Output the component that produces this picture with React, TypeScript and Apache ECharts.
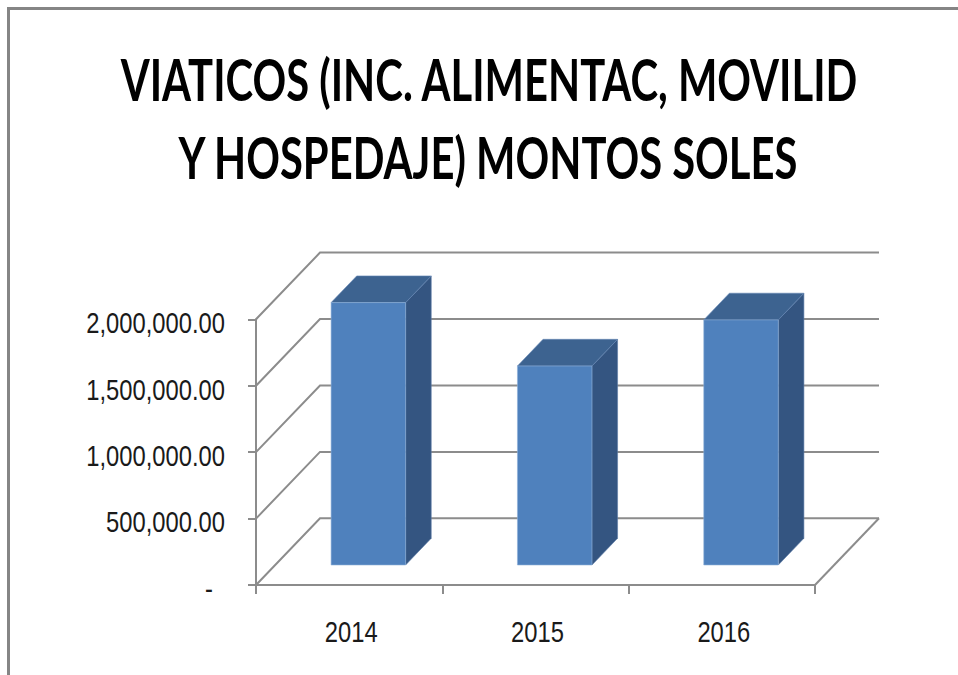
import React, { useEffect, useRef } from "react";
import * as echarts from "echarts";

const CATEGORIES = ["2014", "2015", "2016"];
const VALUES = [1975000, 1498000, 1845000];
const Y_MIN = 0;
const Y_MAX = 2000000;
const Y_STEP = 500000;
const TITLE_LINES = ["VIATICOS (INC. ALIMENTAC, MOVILID", "Y HOSPEDAJE) MONTOS SOLES"];

const W = 958;
const H = 675;
const DX = 64; // depth offset of back wall (px)
const DY = 66.7;
const FRONT = 0.3; // bar front depth fraction
const BACK = 0.7; // bar back depth fraction
const BAR_RATIO = 0.4;
const GRID_COLOR = "#8c8c8c";
const LABEL_FONT = "'Liberation Sans', Arial, sans-serif";
const LABEL_SCALE = 0.82;
const TITLE_FONT = "Lato, 'Liberation Sans', sans-serif";

function fmt(v: number): string {
  if (v === 0) return "-";
  return v.toLocaleString("en-US", { minimumFractionDigits: 2, maximumFractionDigits: 2 });
}

export default function App() {
  const ref = useRef<HTMLDivElement>(null);
  useEffect(() => {
    if (!ref.current) return;
    const chart = echarts.init(ref.current, null, { renderer: "svg" });
    const ticks: number[] = [];
    for (let v = Y_MIN; v <= Y_MAX; v += Y_STEP) ticks.push(v);

    const option: any = {
      animation: false,
      backgroundColor: "#ffffff",
      grid: { left: 256, right: W - 815, top: 319.3, bottom: H - 585, containLabel: false },
      xAxis: {
        type: "category",
        data: CATEGORIES,
        boundaryGap: true,
        axisLine: { show: true, lineStyle: { color: GRID_COLOR, width: 2 } },
        axisTick: { show: true, length: 9, lineStyle: { color: GRID_COLOR, width: 2 } },
        axisLabel: { show: false },
        splitLine: { show: false },
      },
      yAxis: {
        type: "value",
        min: Y_MIN,
        max: Y_MAX,
        interval: Y_STEP,
        axisLine: { show: true, lineStyle: { color: GRID_COLOR, width: 2 } },
        axisTick: { show: true, length: 8, lineStyle: { color: GRID_COLOR, width: 2 } },
        axisLabel: { show: false },
        splitLine: { show: false },
      },
      graphic: [
        {
          type: "rect",
          shape: { x: 8.5, y: 8.5, width: 2000, height: 2000 },
          style: { fill: "none", stroke: "#858585", lineWidth: 3 },
          silent: true,
        },
        {
          type: "text",
          x: 489,
          y: 79,
          scaleX: 0.72,
          style: {
            text: TITLE_LINES[0],
            x: 0,
            y: 0,
            align: "center",
            verticalAlign: "middle",
            font: `bold 58px ${TITLE_FONT}`,
            fill: "#000000",
          },
        },
        {
          type: "text",
          x: 488,
          y: 157,
          scaleX: 0.72,
          style: {
            text: TITLE_LINES[1],
            x: 0,
            y: 0,
            align: "center",
            verticalAlign: "middle",
            font: `bold 58px ${TITLE_FONT}`,
            fill: "#000000",
          },
        },
      ],
      series: [
        {
          type: "custom",
          name: "walls",
          z: 1,
          silent: true,
          data: ticks.map((v) => [0, v]),
          renderItem: (params: any, api: any) => {
            const v = api.value(1);
            const cs = params.coordSys;
            const y = api.coord([0, v])[1];
            const x0 = cs.x;
            const x1 = cs.x + cs.width;
            const style = { stroke: GRID_COLOR, lineWidth: 2, fill: "none" };
            const children: any[] = [
              {
                type: "polyline",
                shape: { points: [[x0, y], [x0 + DX, y - DY], [x1 + DX, y - DY]] },
                style,
              },
              {
                type: "text",
                x: x0 - 31 - (v === 0 ? 12 : 0),
                y: y + 4,
                scaleX: LABEL_SCALE,
                style: {
                  text: fmt(v),
                  x: 0,
                  y: 0,
                  align: "right",
                  verticalAlign: "middle",
                  font: `29px ${LABEL_FONT}`,
                  fill: "#1a1a1a",
                },
              },
            ];
            if (v === 0) {
              children.push({
                type: "line",
                shape: { x1: x1, y1: y, x2: x1 + DX, y2: y - DY },
                style,
              });
            }
            return { type: "group", children };
          },
        },
        {
          type: "custom",
          name: "xlabels",
          z: 2,
          silent: true,
          data: CATEGORIES.map((c, i) => [i, 0]),
          renderItem: (params: any, api: any) => {
            const idx = api.value(0);
            const p = api.coord([idx, 0]);
            return {
              type: "text",
              x: p[0] + 2,
              y: p[1] + 47.5,
              scaleX: LABEL_SCALE,
              style: {
                text: CATEGORIES[idx],
                x: 0,
                y: 0,
                align: "center",
                verticalAlign: "middle",
                font: `29px ${LABEL_FONT}`,
                fill: "#1a1a1a",
              },
            };
          },
        },
        {
          type: "custom",
          name: "VIATICOS",
          z: 5,
          data: CATEGORIES.map((c, i) => [i, VALUES[i]]),
          renderItem: (params: any, api: any) => {
            const idx = api.value(0);
            const v = api.value(1);
            const base = api.coord([idx, 0]);
            const top = api.coord([idx, v]);
            const band = api.size([1, 0])[0];
            const w = band * BAR_RATIO;
            const fx = base[0] - w / 2 + DX * FRONT;
            const fy0 = base[1] - DY * FRONT;
            const fy1 = top[1] - DY * FRONT;
            const bx = DX * (BACK - FRONT);
            const by = DY * (BACK - FRONT);
            return {
              type: "group",
              children: [
                {
                  type: "polygon",
                  shape: { points: [[fx + w, fy0], [fx + w + bx, fy0 - by], [fx + w + bx, fy1 - by], [fx + w, fy1]] },
                  style: { fill: "#345581", stroke: "#5a7aa6", lineWidth: 0.6 },
                },
                {
                  type: "polygon",
                  shape: { points: [[fx, fy1], [fx + bx, fy1 - by], [fx + w + bx, fy1 - by], [fx + w, fy1]] },
                  style: { fill: "#3d6390", stroke: "#6487b5", lineWidth: 0.6 },
                },
                {
                  type: "rect",
                  shape: { x: fx, y: fy1, width: w, height: fy0 - fy1 },
                  style: { fill: "#4f81bd", stroke: "#8fb0d8", lineWidth: 0.6 },
                },
              ],
            };
          },
        },
      ],
    };
    chart.setOption(option);
    return () => chart.dispose();
  }, []);
  return (
    <div
      ref={ref}
      style={{ position: "fixed", left: 0, top: 0, width: W, height: H, background: "#fff" }}
    />
  );
}
